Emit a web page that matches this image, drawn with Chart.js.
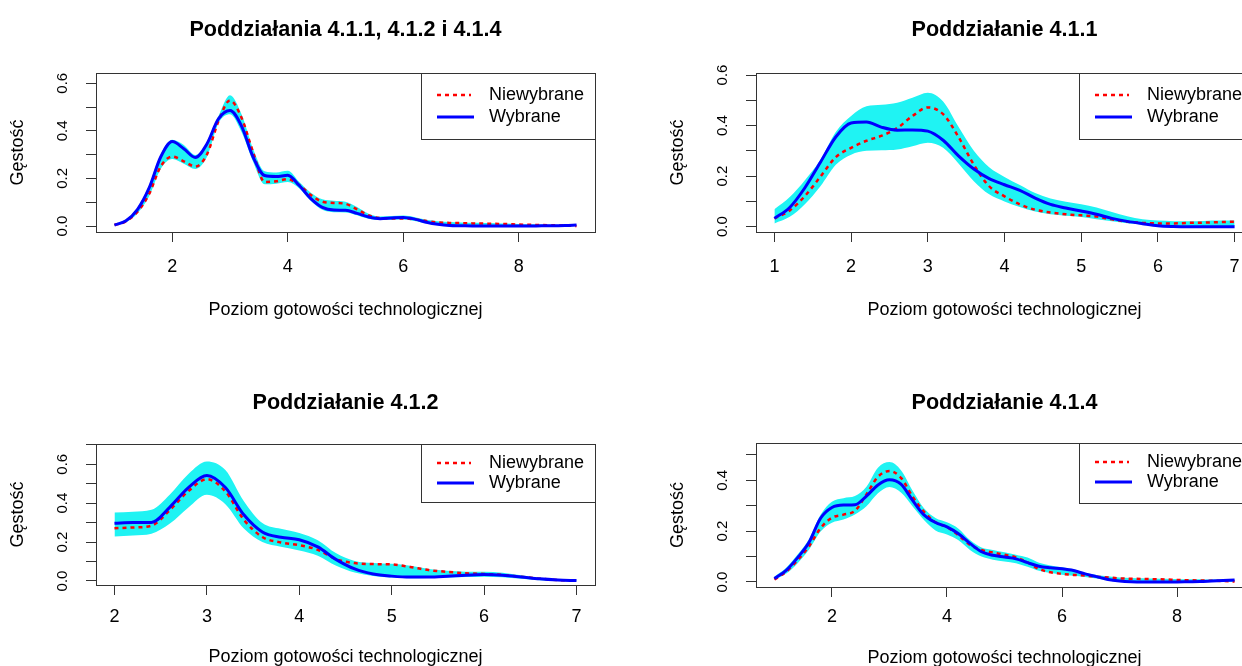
<!DOCTYPE html>
<html>
<head>
<meta charset="utf-8">
<script src="https://cdn.jsdelivr.net/npm/chart.js@4.4.1/dist/chart.umd.min.js"></script>
<style>
  html, body { margin: 0; padding: 0; background: #fff; }
  #page { position: relative; width: 1242px; height: 666px; overflow: hidden; background: #fff; }
  canvas { position: absolute; }
</style>
</head>
<body>
<div id="page">
  <canvas id="cAll" width="621" height="333" style="left:0;top:0"></canvas>
  <canvas id="c411" width="680" height="333" style="left:621px;top:0"></canvas>
  <canvas id="c412" width="621" height="333" style="left:0;top:333px"></canvas>
  <canvas id="c414" width="680" height="333" style="left:621px;top:333px"></canvas>
</div>
<script>
const FONT = '"Liberation Sans", Arial, Helvetica, sans-serif';
const AXIS = '#333333';
const BAND = '#1ff3f3';
const LEGEND_LABELS = ['Niewybrane', 'Wybrane'];
const X_TITLE = 'Poziom gotowości technologicznej';
const Y_TITLE = 'Gęstość';

// ---- Poddziałania 4.1.1, 4.1.2 i 4.1.4 ----
const allX = [1.0, 1.2, 1.4, 1.6, 1.8, 2.0, 2.2, 2.4, 2.6, 2.8, 3.0, 3.2, 3.4, 3.6, 3.8, 4.0, 4.2, 4.4, 4.6, 4.8,
  5.0, 5.2, 5.4, 5.6, 5.8, 6.0, 6.2, 6.4, 6.6, 6.8, 7.0, 7.2, 7.4, 7.6, 7.8, 8.0, 8.2, 8.4, 8.6, 8.8, 9.0];
const allBlue = [0.004, 0.022, 0.070, 0.160, 0.290, 0.355, 0.325, 0.288, 0.345, 0.450, 0.485, 0.420, 0.290, 0.212, 0.208, 0.213, 0.170, 0.115, 0.078, 0.067,
  0.066, 0.053, 0.038, 0.031, 0.034, 0.036, 0.029, 0.016, 0.007, 0.002, 0.001, 0.000, 0.000, 0.000, 0.000, 0.000, 0.000, 0.001, 0.001, 0.002, 0.004];
const allRed = [0.004, 0.020, 0.060, 0.135, 0.250, 0.292, 0.272, 0.250, 0.300, 0.440, 0.528, 0.455, 0.310, 0.185, 0.188, 0.197, 0.172, 0.130, 0.102, 0.097,
  0.093, 0.070, 0.045, 0.033, 0.032, 0.032, 0.028, 0.021, 0.015, 0.013, 0.012, 0.011, 0.010, 0.009, 0.008, 0.006, 0.005, 0.004, 0.003, 0.002, 0.000];
const allUpper = [0.008, 0.028, 0.078, 0.170, 0.300, 0.362, 0.340, 0.298, 0.352, 0.462, 0.550, 0.470, 0.325, 0.230, 0.225, 0.232, 0.185, 0.140, 0.112, 0.106,
  0.102, 0.080, 0.052, 0.040, 0.042, 0.044, 0.037, 0.026, 0.020, 0.017, 0.015, 0.014, 0.013, 0.012, 0.010, 0.008, 0.007, 0.006, 0.005, 0.005, 0.006];
const allLower = [0.002, 0.016, 0.054, 0.125, 0.240, 0.282, 0.262, 0.240, 0.290, 0.432, 0.470, 0.395, 0.270, 0.175, 0.178, 0.185, 0.158, 0.105, 0.068, 0.058,
  0.057, 0.045, 0.030, 0.025, 0.026, 0.027, 0.021, 0.010, 0.003, 0.000, 0.000, 0.000, 0.000, 0.000, 0.000, 0.000, 0.000, 0.000, 0.000, 0.000, 0.000];
const allXTicks = [2, 4, 6, 8];
const allXLabels = ['2', '4', '6', '8'];
const allYTicks = [0, 0.1, 0.2, 0.3, 0.4, 0.5, 0.6];
const allYLabels = ['0.0', '', '0.2', '', '0.4', '', '0.6'];

// ---- Poddziałanie 4.1.1 ----
const p411X = [1.0, 1.2, 1.4, 1.6, 1.8, 2.0, 2.2, 2.4, 2.6, 2.8, 3.0, 3.2, 3.4, 3.6, 3.8, 4.0,
  4.2, 4.4, 4.6, 4.8, 5.0, 5.2, 5.4, 5.6, 5.8, 6.0, 6.2, 6.4, 6.6, 6.8, 7.0];
const p411Blue = [0.033, 0.076, 0.155, 0.255, 0.355, 0.410, 0.414, 0.393, 0.382, 0.383, 0.378, 0.342, 0.280, 0.228, 0.190, 0.166,
  0.144, 0.113, 0.088, 0.074, 0.062, 0.049, 0.033, 0.021, 0.012, 0.004, 0.001, 0.000, 0.000, 0.000, 0.000];
const p411Red = [0.033, 0.064, 0.122, 0.198, 0.275, 0.312, 0.340, 0.360, 0.390, 0.438, 0.472, 0.445, 0.355, 0.245, 0.160, 0.120,
  0.088, 0.067, 0.056, 0.049, 0.045, 0.040, 0.029, 0.020, 0.015, 0.013, 0.013, 0.015, 0.016, 0.018, 0.020];
const p411Upper = [0.069, 0.117, 0.185, 0.265, 0.375, 0.438, 0.476, 0.482, 0.490, 0.510, 0.530, 0.495, 0.395, 0.300, 0.235, 0.197,
  0.165, 0.133, 0.112, 0.099, 0.089, 0.076, 0.058, 0.041, 0.029, 0.024, 0.022, 0.022, 0.023, 0.024, 0.024];
const p411Lower = [0.013, 0.039, 0.090, 0.160, 0.245, 0.285, 0.300, 0.302, 0.305, 0.318, 0.332, 0.312, 0.250, 0.180, 0.128, 0.100,
  0.078, 0.060, 0.049, 0.043, 0.038, 0.029, 0.022, 0.014, 0.009, 0.005, 0.003, 0.003, 0.003, 0.003, 0.003];
const p411XTicks = [1, 2, 3, 4, 5, 6, 7];
const p411XLabels = ['1', '2', '3', '4', '5', '6', '7'];
const p411YTicks = [0, 0.1, 0.2, 0.3, 0.4, 0.5, 0.6];
const p411YLabels = ['0.0', '', '0.2', '', '0.4', '', '0.6'];

// ---- Poddziałanie 4.1.2 ----
const p412X = [2.0, 2.2, 2.4, 2.6, 2.8, 3.0, 3.2, 3.4, 3.6, 3.8, 4.0, 4.2, 4.4,
  4.6, 4.8, 5.0, 5.2, 5.4, 5.6, 5.8, 6.0, 6.2, 6.4, 6.6, 6.8, 7.0];
const p412Blue = [0.297, 0.300, 0.301, 0.380, 0.480, 0.542, 0.480, 0.340, 0.252, 0.225, 0.212, 0.175, 0.110,
  0.062, 0.036, 0.025, 0.020, 0.020, 0.024, 0.030, 0.033, 0.030, 0.021, 0.011, 0.005, 0.002];
const p412Red = [0.271, 0.275, 0.284, 0.365, 0.462, 0.523, 0.460, 0.315, 0.226, 0.198, 0.184, 0.160, 0.112,
  0.092, 0.087, 0.085, 0.072, 0.056, 0.047, 0.040, 0.036, 0.031, 0.022, 0.012, 0.005, 0.002];
const p412Upper = [0.352, 0.356, 0.366, 0.445, 0.550, 0.614, 0.570, 0.410, 0.298, 0.268, 0.247, 0.210, 0.142,
  0.103, 0.092, 0.088, 0.078, 0.062, 0.052, 0.048, 0.048, 0.042, 0.029, 0.017, 0.009, 0.005];
const p412Lower = [0.228, 0.234, 0.243, 0.295, 0.378, 0.443, 0.395, 0.270, 0.200, 0.176, 0.157, 0.130, 0.078,
  0.043, 0.026, 0.018, 0.014, 0.015, 0.017, 0.020, 0.022, 0.019, 0.011, 0.004, 0.000, 0.000];
const p412XTicks = [2, 3, 4, 5, 6, 7];
const p412XLabels = ['2', '3', '4', '5', '6', '7'];
const p412YTicks = [0, 0.1, 0.2, 0.3, 0.4, 0.5, 0.6, 0.7];
const p412YLabels = ['0.0', '', '0.2', '', '0.4', '', '0.6', ''];

// ---- Poddziałanie 4.1.4 ----
const p414X = allX;
const p414Blue = [0.014, 0.045, 0.095, 0.155, 0.250, 0.293, 0.303, 0.304, 0.338, 0.382, 0.402, 0.385, 0.322, 0.264, 0.234, 0.217, 0.190, 0.152, 0.119, 0.105,
  0.098, 0.091, 0.076, 0.062, 0.056, 0.052, 0.045, 0.032, 0.021, 0.010, 0.004, 0.001, 0.000, 0.000, 0.000, 0.000, 0.001, 0.002, 0.004, 0.006, 0.008];
const p414Red = [0.010, 0.040, 0.085, 0.140, 0.211, 0.253, 0.265, 0.280, 0.345, 0.414, 0.437, 0.410, 0.337, 0.277, 0.235, 0.216, 0.184, 0.146, 0.126, 0.116,
  0.107, 0.097, 0.077, 0.051, 0.038, 0.032, 0.028, 0.025, 0.021, 0.018, 0.014, 0.013, 0.012, 0.011, 0.010, 0.008, 0.007, 0.006, 0.005, 0.004, 0.002];
const p414Upper = [0.021, 0.055, 0.107, 0.168, 0.264, 0.316, 0.330, 0.338, 0.375, 0.450, 0.472, 0.440, 0.360, 0.290, 0.252, 0.235, 0.210, 0.165, 0.136, 0.126,
  0.117, 0.107, 0.096, 0.076, 0.065, 0.058, 0.050, 0.036, 0.028, 0.023, 0.018, 0.016, 0.015, 0.014, 0.013, 0.012, 0.011, 0.011, 0.010, 0.010, 0.010];
const p414Lower = [0.008, 0.032, 0.073, 0.127, 0.198, 0.233, 0.246, 0.266, 0.298, 0.349, 0.374, 0.352, 0.298, 0.244, 0.203, 0.187, 0.164, 0.126, 0.100, 0.088,
  0.081, 0.074, 0.060, 0.044, 0.035, 0.029, 0.025, 0.020, 0.014, 0.006, 0.001, 0.000, 0.000, 0.000, 0.000, 0.000, 0.000, 0.000, 0.000, 0.000, 0.000];
const p414XTicks = [2, 4, 6, 8];
const p414XLabels = ['2', '4', '6', '8'];
const p414YTicks = [0, 0.1, 0.2, 0.3, 0.4, 0.5];
const p414YLabels = ['0.0', '', '0.2', '', '0.4', ''];

// R-like decorations: box, titles, rotated y labels, legend inside the plot
const rStyle = {
  id: 'rStyle',
  afterDraw(chart, args, o) {
    const { ctx, chartArea: a } = chart;
    const sx = chart.scales.x, sy = chart.scales.y;
    const cx = (a.left + a.right) / 2;
    ctx.save();
    ctx.strokeStyle = AXIS;
    ctx.lineWidth = 1;
    ctx.setLineDash([]);
    ctx.strokeRect(Math.round(a.left) + 0.5, Math.round(a.top) + 0.5,
      Math.round(a.right - a.left), Math.round(a.bottom - a.top));

    ctx.fillStyle = '#000';
    ctx.textAlign = 'center';
    ctx.textBaseline = 'middle';
    ctx.font = 'bold 21.6px ' + FONT;
    ctx.fillText(o.title, cx, o.titleY);

    ctx.font = '18px ' + FONT;
    o.xTicks.forEach((v, i) => {
      ctx.fillText(o.xLabels[i], sx.getPixelForValue(v), a.bottom + o.xLabelDy);
    });
    ctx.fillText(X_TITLE, cx, a.bottom + o.xTitleDy);

    ctx.save();
    ctx.translate(o.yTitleX, (a.top + a.bottom) / 2);
    ctx.rotate(-Math.PI / 2);
    ctx.fillText(Y_TITLE, 0, 0);
    ctx.restore();

    ctx.font = '15px ' + FONT;
    o.yTicks.forEach((v, i) => {
      if (!o.yLabels[i]) return;
      ctx.save();
      ctx.translate(a.left - 33, sy.getPixelForValue(v));
      ctx.rotate(-Math.PI / 2);
      ctx.fillText(o.yLabels[i], 0, 0);
      ctx.restore();
    });

    // legend
    const lw = 174, lx = Math.round(a.right) - lw + 0.5, ly = Math.round(a.top) + 0.5;
    ctx.fillStyle = '#fff';
    ctx.fillRect(lx, ly, lw, o.legendH);
    ctx.strokeStyle = AXIS;
    ctx.strokeRect(lx, ly, lw, o.legendH);
    ctx.font = '18px ' + FONT;
    ctx.textAlign = 'left';
    ctx.fillStyle = '#000';
    const styles = [
      { color: '#ff0000', width: 2.5, dash: [4, 4], len: 34 },
      { color: '#0000ff', width: 3, dash: [], len: 37 }
    ];
    LEGEND_LABELS.forEach((lab, i) => {
      const yy = a.top + o.legendRows[i];
      ctx.beginPath();
      ctx.strokeStyle = styles[i].color;
      ctx.lineWidth = styles[i].width;
      ctx.setLineDash(styles[i].dash);
      ctx.moveTo(lx + 15.5, yy);
      ctx.lineTo(lx + 15.5 + styles[i].len, yy);
      ctx.stroke();
      ctx.fillText(lab, lx + 67.5, yy);
    });
    ctx.restore();
  }
};

function makePanel(id, p) {
  const pts = ys => p.xs.map((x, i) => ({ x: x, y: ys[i] }));
  const tickGrid = { drawOnChartArea: false, drawTicks: true, tickLength: 10, color: AXIS, lineWidth: 1 };
  return new Chart(document.getElementById(id), {
    type: 'line',
    data: {
      datasets: [
        { label: 'Wybrane', data: pts(p.blue), borderColor: '#0000ff', borderWidth: 3, fill: false },
        { label: 'Niewybrane', data: pts(p.red), borderColor: '#ff0000', borderWidth: 2.5, borderDash: [4, 4], fill: false },
        { label: 'upper', data: pts(p.upper), borderColor: 'rgba(0,0,0,0)', borderWidth: 0, backgroundColor: BAND, fill: '+1' },
        { label: 'lower', data: pts(p.lower), borderColor: 'rgba(0,0,0,0)', borderWidth: 0, fill: false }
      ]
    },
    options: {
      responsive: false,
      animation: false,
      events: [],
      layout: { padding: p.pad },
      elements: { point: { radius: 0 }, line: { cubicInterpolationMode: 'monotone' } },
      plugins: {
        legend: { display: false },
        tooltip: { enabled: false },
        title: { display: false },
        rStyle: p.text
      },
      scales: {
        x: {
          type: 'linear', min: p.xMin, max: p.xMax,
          afterFit: s => { s.height = p.xAxisH; },
          afterBuildTicks: s => { s.ticks = p.text.xTicks.map(v => ({ value: v })); },
          ticks: { display: false },
          border: { display: false },
          grid: tickGrid
        },
        y: {
          type: 'linear', min: p.yMin, max: p.yMax,
          afterFit: s => { s.width = p.yAxisW; },
          afterBuildTicks: s => { s.ticks = p.text.yTicks.map(v => ({ value: v })); },
          ticks: { display: false },
          border: { display: false },
          grid: tickGrid
        }
      }
    },
    plugins: [rStyle]
  });
}

makePanel('cAll', {
  xs: allX, blue: allBlue, red: allRed, upper: allUpper, lower: allLower,
  xMin: 0.68, xMax: 9.32, yMin: -0.0252, yMax: 0.643,
  pad: { left: 0, top: 73, right: 26, bottom: 0 }, yAxisW: 96, xAxisH: 101,
  text: { title: 'Poddziałania 4.1.1, 4.1.2 i 4.1.4', titleY: 30, xLabelDy: 35, xTitleDy: 78, yTitleX: 18.3,
    xTicks: allXTicks, xLabels: allXLabels, yTicks: allYTicks, yLabels: allYLabels,
    legendH: 66, legendRows: [22, 44] }
});

makePanel('c411', {
  xs: p411X, blue: p411Blue, red: p411Red, upper: p411Upper, lower: p411Lower,
  xMin: 0.76, xMax: 7.24, yMin: -0.021, yMax: 0.608,
  pad: { left: 0, top: 73, right: 48, bottom: 0 }, yAxisW: 135, xAxisH: 101,
  text: { title: 'Poddziałanie 4.1.1', titleY: 30, xLabelDy: 35, xTitleDy: 78, yTitleX: 57.3,
    xTicks: p411XTicks, xLabels: p411XLabels, yTicks: p411YTicks, yLabels: p411YLabels,
    legendH: 66, legendRows: [22, 44] }
});

makePanel('c412', {
  xs: p412X, blue: p412Blue, red: p412Red, upper: p412Upper, lower: p412Lower,
  xMin: 1.8, xMax: 7.2, yMin: -0.0206, yMax: 0.704,
  pad: { left: 0, top: 111, right: 26, bottom: 0 }, yAxisW: 96, xAxisH: 81,
  text: { title: 'Poddziałanie 4.1.2', titleY: 69.7, xLabelDy: 31.7, xTitleDy: 71.7, yTitleX: 18.3,
    xTicks: p412XTicks, xLabels: p412XLabels, yTicks: p412YTicks, yLabels: p412YLabels,
    legendH: 58, legendRows: [19, 39] }
});

makePanel('c414', {
  xs: p414X, blue: p414Blue, red: p414Red, upper: p414Upper, lower: p414Lower,
  xMin: 0.68, xMax: 9.32, yMin: -0.0197, yMax: 0.547,
  pad: { left: 0, top: 110, right: 48, bottom: 0 }, yAxisW: 135, xAxisH: 79,
  text: { title: 'Poddziałanie 4.1.4', titleY: 69.7, xLabelDy: 30, xTitleDy: 71, yTitleX: 57.3,
    xTicks: p414XTicks, xLabels: p414XLabels, yTicks: p414YTicks, yLabels: p414YLabels,
    legendH: 60, legendRows: [19, 39] }
});
</script>
</body>
</html>
